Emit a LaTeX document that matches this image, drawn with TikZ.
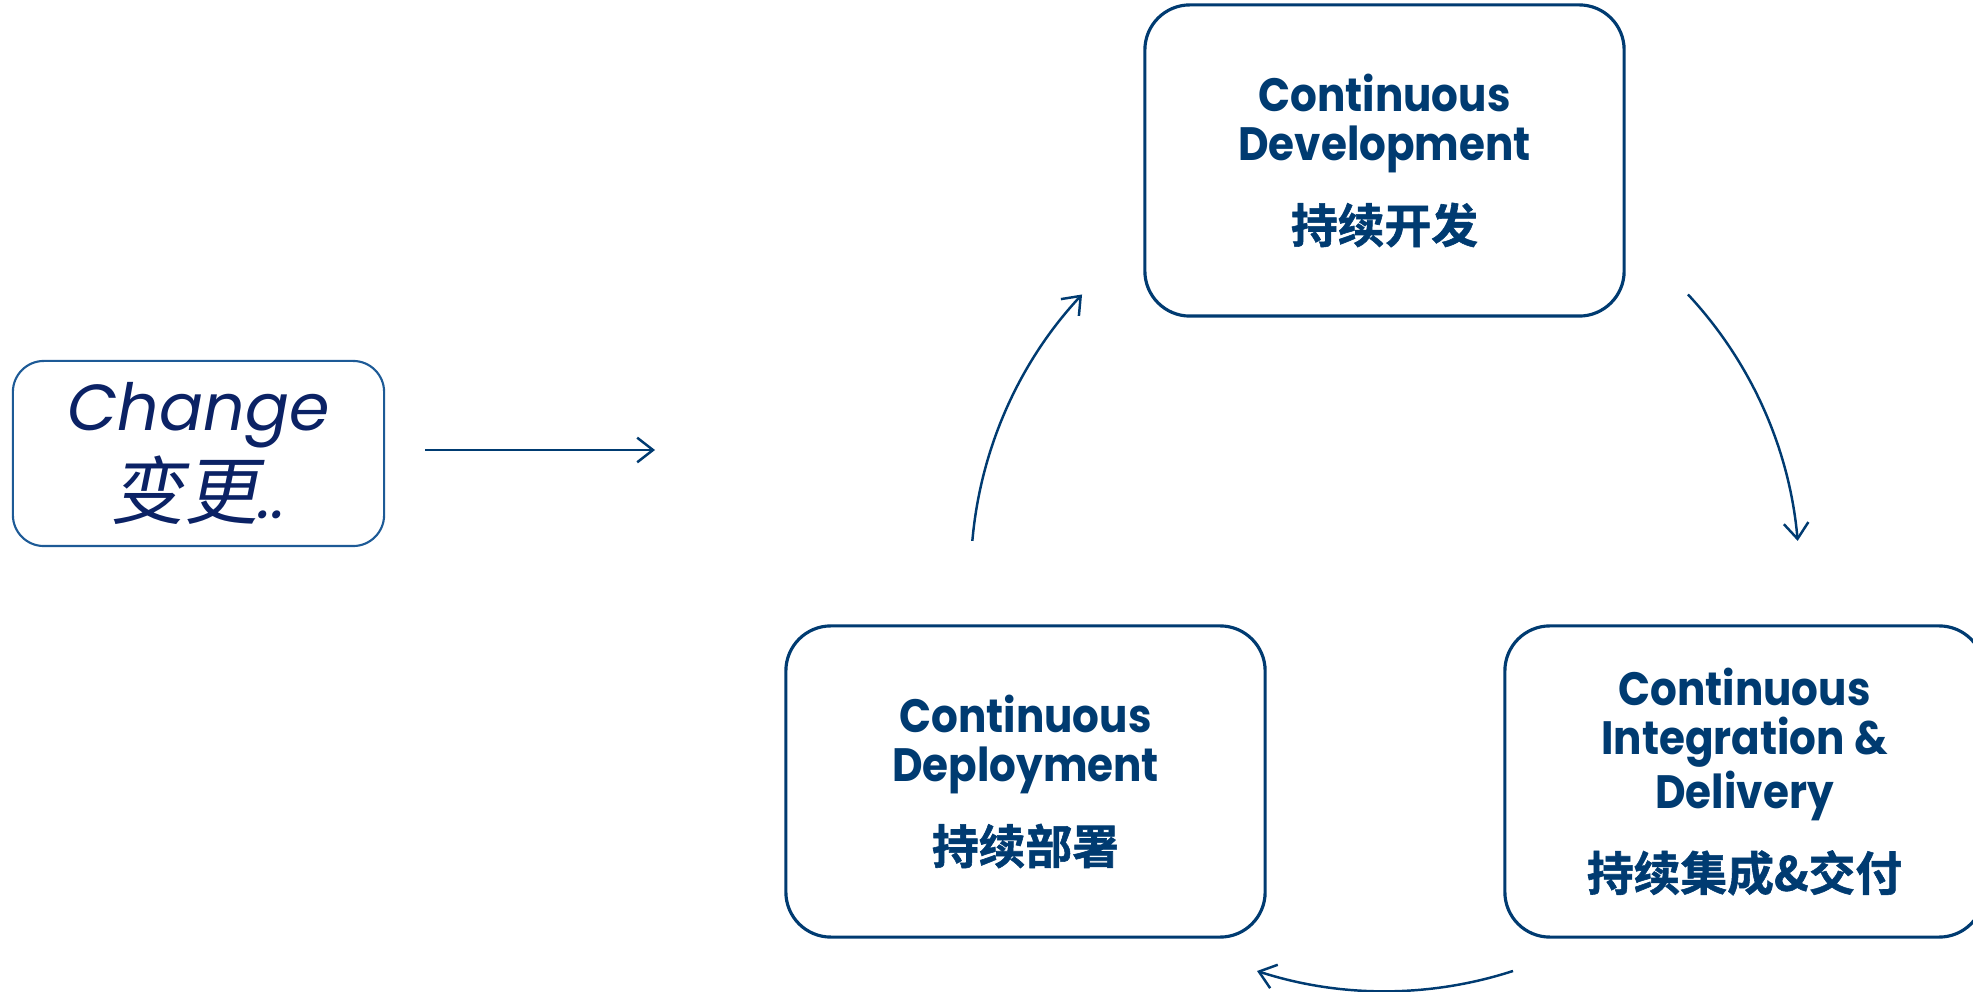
\documentclass[tikz,border=0pt]{standalone}
\usepackage{fontspec}
\setmainfont{Poppins}
\newfontfamily\stagefont{Poppins}[FakeStretch=0.9]
\newfontfamily\cjk{Noto Sans CJK SC}[BoldFont={Noto Sans CJK SC Bold},BoldFeatures={FakeBold=1.2}]
\newfontfamily\cjksl{Noto Sans CJK SC}[FakeSlant=0.2]
\usetikzlibrary{arrows.meta}
\definecolor{dblue}{HTML}{003B71}
\definecolor{navy}{HTML}{0B2265}
\definecolor{cbord}{HTML}{1D5A96}
\tikzset{
  stage/.style={draw=dblue, line width=0.9pt, rounded corners=0.45cm,
    minimum width=4.79cm, minimum height=3.11cm, align=center, text=dblue,
    font=\stagefont\bfseries\fontsize{13.3}{14}\selectfont, inner sep=0pt},
  changebox/.style={draw=cbord, line width=0.6pt, rounded corners=0.31cm,
    minimum width=3.71cm, minimum height=1.85cm, align=center, text=navy,
    font=\itshape\fontsize{18.5}{20.6}\selectfont, inner sep=0pt},
  conn/.style={draw=dblue, line width=0.7pt, -{Straight Barb[length=4.5pt,width=7pt]}},
}
\begin{document}
\begin{tikzpicture}[x=0.01cm,y=0.01cm]
\useasboundingbox (0,0) rectangle (1973,-992);
\clip (0,0) rectangle (1973,-992);
\node[changebox] (chg) at (198.5,-453.5) {Change\\[1pt]{\cjksl\fontsize{21}{21}\selectfont 变更}..};
\node[stage] (cd) at (1384.5,-160.5) {Continuous\\Development\\[7.5pt]{\cjk\bfseries 持续开发}};
\node[stage] (ci) at (1744.5,-781.5) {Continuous\\Integration \&\\Delivery\\[7.5pt]{\cjk\bfseries 持续集成\&交付}};
\node[stage] (dep) at (1025.5,-781.5) {Continuous\\Deployment\\[7.5pt]{\cjk\bfseries 持续部署}};
\coordinate (a1) at (425,-450);
\coordinate (a2) at (655,-450);
\draw[conn] (a1) -- (a2);
\coordinate (o) at (1385,-577);
\draw[conn] ([shift={(175:4.14cm)}]o) arc[start angle=175,end angle=137,radius=4.14cm];
\draw[conn] ([shift={(43:4.14cm)}]o) arc[start angle=43,end angle=5,radius=4.14cm];
\draw[conn] ([shift={(-72:4.14cm)}]o) arc[start angle=-72,end angle=-108,radius=4.14cm];
\end{tikzpicture}
\end{document}
